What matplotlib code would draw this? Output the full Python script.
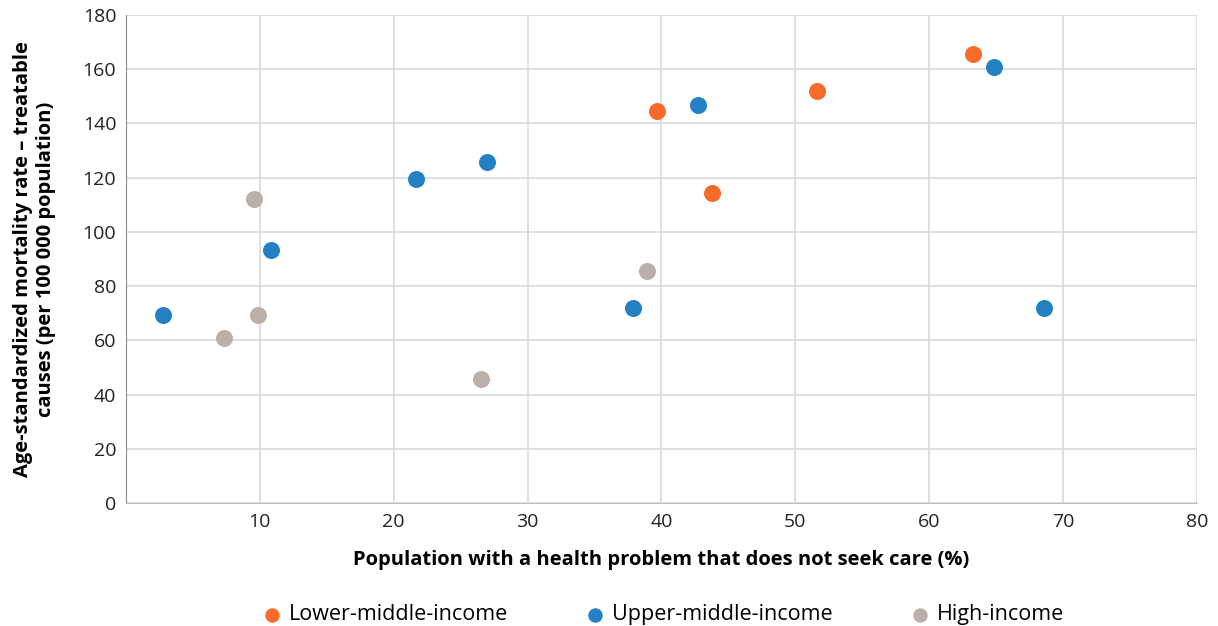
import matplotlib
matplotlib.use("Agg")
import matplotlib.pyplot as plt

plt.rcParams['font.family'] = ['Open Sans', 'DejaVu Sans']

# Lower-middle-income
lmi_x = [63.3, 51.6, 39.7, 43.8]
lmi_y = [165.6, 152.0, 144.5, 114.3]
# Upper-middle-income
umi_x = [2.8, 10.8, 21.7, 27.0, 37.9, 42.7, 64.8, 68.6]
umi_y = [69.3, 93.2, 119.4, 125.7, 71.9, 146.8, 160.8, 71.9]
# High-income
hi_x = [9.6, 7.3, 9.9, 26.5, 38.9]
hi_y = [112.0, 60.8, 69.3, 45.7, 85.7]

labels = ['Lower-middle-income', 'Upper-middle-income', 'High-income']
colors = ['#F96B2B', '#2381C3', '#BBB0A9']

fig = plt.figure(figsize=(12.18, 6.26), dpi=100)
ax = fig.add_axes([0.1034, 0.1965, 0.8794, 0.7795])

for xs, ys, lab, c in zip([lmi_x, umi_x, hi_x], [lmi_y, umi_y, hi_y], labels, colors):
    ax.scatter(xs, ys, s=150, color=c, label=lab, zorder=3, linewidths=0)

ax.set_xlim(0, 80)
ax.set_ylim(0, 180)
ax.set_xticks(range(10, 81, 10))
ax.set_yticks(range(0, 181, 20))
ax.grid(True, color='#D9D9D9', linewidth=1.2)
ax.set_axisbelow(True)
for s in ['top', 'right']:
    ax.spines[s].set_visible(False)
ax.spines['left'].set_color('#8C8C8C')
ax.spines['bottom'].set_color('#BFBFBF')
ax.tick_params(length=0, labelsize=14, colors='#222222', pad=7)

ax.set_xlabel('Population with a health problem that does not seek care (%)',
              fontsize=14.5, fontweight='bold', labelpad=14)
ax.set_ylabel('Age-standardized mortality rate \u2013 treatable\ncauses (per 100 000 population)',
              fontsize=14.5, fontweight='bold', labelpad=19)

fig.legend(loc='lower center', bbox_to_anchor=(0.545, -0.03), ncol=3, frameon=False,
           fontsize=15.5, handlelength=0.8, handletextpad=0.4, columnspacing=3.64,
           markerscale=0.85)

fig.savefig('out.png', dpi=100)
